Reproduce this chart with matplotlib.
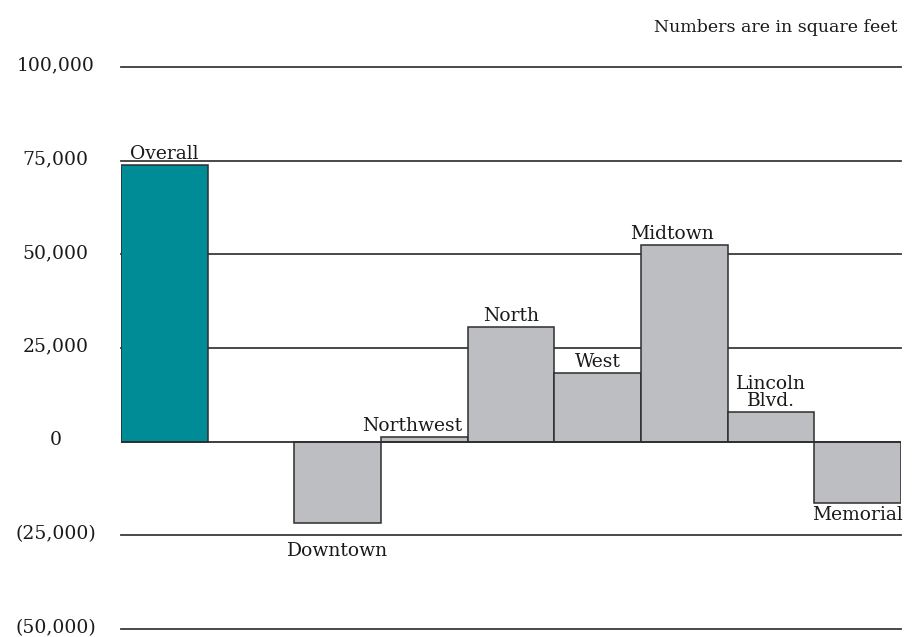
import matplotlib
matplotlib.use('Agg')
from matplotlib import pyplot as plt

# data (square feet)
areas = ['Overall', '', 'Downtown', 'Northwest', 'North', 'West',
         'Midtown', 'Lincoln\nBlvd.', 'Memorial']
values = [73800, None, -21600, 1300, 30500, 18200, 52600, 8000, -16300]
colors = ['#008C96', None, '#BDBEC2', '#BDBEC2', '#BDBEC2', '#BDBEC2',
          '#BDBEC2', '#BDBEC2', '#BDBEC2']
yticks = [100000, 75000, 50000, 25000, 0, -25000, -50000]


def fmt(v):
    if v < 0:
        return f'({-v:,})'
    return f'{v:,}'


plt.rcParams['font.family'] = ['DejaVu Serif']
fig = plt.figure(figsize=(9.16, 6.37), dpi=100)
ax = fig.add_axes([121 / 916, 8 / 637, 780 / 916, 562 / 637])

for y in yticks:
    if y != 0:
        ax.axhline(y, color='#3a3a3a', lw=1.3, zorder=1, clip_on=False)
    # tick labels, centred in the left margin
    ax.annotate(fmt(y), xy=(0, y), xycoords=('axes fraction', 'data'),
                xytext=(-47, 1), textcoords='offset points', ha='center',
                va='center', fontsize=13.5, color='#1a1a1a',
                annotation_clip=False)

for i, (name, v, c) in enumerate(zip(areas, values, colors)):
    if v is None:
        continue
    ax.bar(i + 0.5, v, width=1.0, color=c, edgecolor='#2e2e2e',
           linewidth=1.1, zorder=2)
    dx = 0
    if name in ('Northwest', 'Midtown'):
        dx = -9
    if name == 'Downtown':
        off = -14
    elif v < 0:
        off = -2
    else:
        off = 1.5
    ax.annotate(name, (i + 0.5, v), xytext=(dx, off), textcoords='offset points',
                ha='center', va='bottom' if v >= 0 else 'top',
                fontsize=13.5, linespacing=0.9, color='#1a1a1a', zorder=3)

ax.axhline(0, color='#2e2e2e', lw=1.3, zorder=2.5)

ax.set_xlim(0, 9)
ax.set_ylim(-50000, 100000)
ax.set_xticks([])
ax.set_yticks([])
for s in ax.spines.values():
    s.set_visible(False)

fig.text(897 / 916, 1 - 28 / 637, 'Numbers are in square feet', ha='right',
         va='center', fontsize=12.5, color='#1a1a1a')

fig.savefig('out.png', dpi=100)
